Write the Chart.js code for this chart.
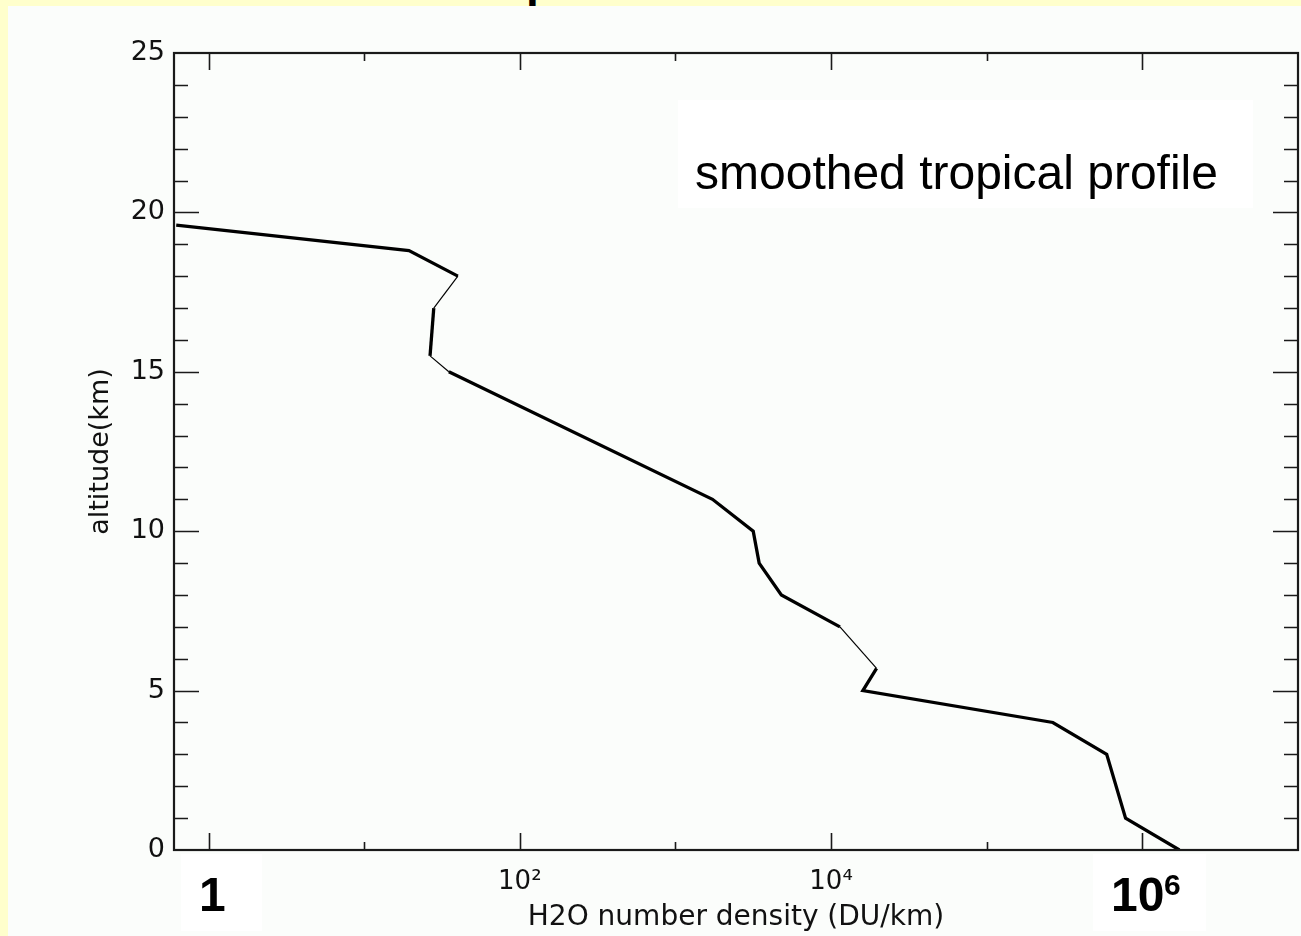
<!DOCTYPE html>
<html>
<head>
<meta charset="utf-8">
<title>H2O profile</title>
<script src="https://cdn.jsdelivr.net/npm/chart.js@4.4.1/dist/chart.umd.min.js"></script>
<style>
  html, body { margin: 0; padding: 0; }
  body { width: 1301px; height: 936px; background: #ffffcc; position: relative; overflow: hidden; }
  #topStrip { position: absolute; left: 0; top: 0; width: 1301px; height: 6px; overflow: hidden; }
  #topStrip span { position: absolute; left: 526px; top: -43px; font: bold 46px/46px "Liberation Sans", Arial, sans-serif; color: #000; }
  #slide { position: absolute; left: 8px; top: 6px; width: 1293px; height: 930px; background: #fbfdfb; }
  #wrap { position: absolute; left: 0; top: 0; width: 1301px; height: 936px; }
  .box { position: absolute; background: #ffffff; }
  .lbl { position: absolute; font-family: "Liberation Sans", Arial, sans-serif; color: #000; white-space: nowrap; }
</style>
</head>
<body>
<div id="topStrip"><span>p</span></div>
<div id="slide"></div>
<div class="box" style="left:678px;top:100px;width:575px;height:108px;"></div>
<div class="box" style="left:181px;top:854px;width:81px;height:77px;"></div>
<div class="box" style="left:1093px;top:854px;width:113px;height:77px;"></div>
<div id="wrap"><canvas id="c" width="1301" height="936"></canvas></div>
<div class="lbl" style="left:695px;top:149px;font-size:48px;line-height:48px;">smoothed tropical profile</div>
<div class="lbl" style="left:199px;top:871px;font-size:48px;line-height:48px;font-weight:bold;">1</div>
<div class="lbl" style="left:1111px;top:871px;font-size:48px;line-height:48px;font-weight:bold;">10</div>
<div class="lbl" style="left:1164px;top:870px;font-size:30px;line-height:30px;font-weight:bold;">6</div>
<script>
/* ====== DATA ====== */
// altitude (km) and H2O number density (DU/km)
var altitude = [19.6, 18.8, 18.0, 17.0, 15.5, 15.0, 11.0, 10.0, 9.0, 8.0, 7.0, 5.7, 5.0, 4.0, 3.0, 1.0, 0.0];
var density  = [0.62, 19.4, 40, 28, 26.5, 35, 1730, 3160, 3450, 4790, 11400, 19600, 16000, 266000, 590000, 780000, 1730000];

// axis ticks
var xDecades  = [1, 10, 100, 1000, 10000, 100000, 1000000];
var xTickText = ["", "", "10\u00b2", "", "10\u2074", "", ""];
var yTicks    = [0, 5, 10, 15, 20, 25];

/* ====== FRAME + INWARD TICKS (IDL style) ====== */
var frameTicks = {
    id: "frameTicks",
    afterDatasetsDraw: function (chart) {
        var ctx = chart.ctx, a = chart.chartArea;
        var xs = chart.scales.x, ys = chart.scales.y;
        ctx.save();
        ctx.strokeStyle = "#1a1a1a";
        ctx.lineWidth = 1.6;
        ctx.beginPath();
        // y: minor tick every km, long one every 5 km
        for (var v = 1; v < 25; v++) {
            var py = Math.round(ys.getPixelForValue(v)) + 0.5;
            var len = (yTicks.indexOf(v) !== -1) ? 25 : 14;
            ctx.moveTo(a.left, py); ctx.lineTo(a.left + len, py);
            ctx.moveTo(a.right, py); ctx.lineTo(a.right - len, py);
        }
        // x: one tick per decade, long on even powers
        xDecades.forEach(function (d, i) {
            var px = Math.round(xs.getPixelForValue(d)) + 0.5;
            var len = (i % 2 === 0) ? 17 : 8;
            ctx.moveTo(px, a.bottom); ctx.lineTo(px, a.bottom - len);
            ctx.moveTo(px, a.top); ctx.lineTo(px, a.top + len);
        });
        ctx.stroke();
        ctx.lineWidth = 2.2;
        ctx.strokeRect(a.left, a.top, a.right - a.left, a.bottom - a.top);
        ctx.restore();
    }
};

/* ====== CHART ====== */
var points = density.map(function (d, i) { return { x: d, y: altitude[i] }; });
var thinSegs = [2, 4, 10];
var axisFont = { family: "'DejaVu Sans', sans-serif", size: 26 };

new Chart(document.getElementById("c").getContext("2d"), {
    type: "line",
    data: {
        datasets: [{
            data: points,
            borderColor: "#000",
            borderWidth: 3.3,
            pointRadius: 0,
            tension: 0,
            fill: false,
            segment: {
                borderWidth: function (s) { return thinSegs.indexOf(s.p0DataIndex) !== -1 ? 1.2 : 3.3; }
            }
        }]
    },
    options: {
        responsive: false,
        animation: false,
        layout: { padding: { left: 0, top: 53, right: 3, bottom: 0 } },
        plugins: { legend: { display: false }, tooltip: { enabled: false } },
        scales: {
            x: {
                type: "logarithmic",
                min: 0.615, max: 1e7,
                grid: { display: false, drawTicks: false },
                border: { display: false },
                afterBuildTicks: function (s) { s.ticks = xDecades.map(function (v) { return { value: v }; }); },
                afterFit: function (s) { s.height = 86; },
                ticks: {
                    autoSkip: false, maxRotation: 0, padding: 17, color: "#111", font: axisFont,
                    callback: function (v, i) { return xTickText[i]; }
                },
                title: {
                    display: true, text: "H2O number density (DU/km)", color: "#111",
                    font: { family: "'DejaVu Sans', sans-serif", size: 28 }, padding: { top: 0, bottom: 1 }
                }
            },
            y: {
                min: 0, max: 25,
                grid: { display: false, drawTicks: false },
                border: { display: false },
                afterBuildTicks: function (s) { s.ticks = yTicks.map(function (v) { return { value: v }; }); },
                afterFit: function (s) { s.width = 174; },
                ticks: { padding: 9, color: "#111", font: { family: "'DejaVu Sans', sans-serif", size: 27 } },
                title: {
                    display: true, text: "altitude(km)", color: "#111",
                    font: { family: "'DejaVu Sans', sans-serif", size: 27 }, padding: { top: 85, bottom: 0 }
                }
            }
        }
    },
    plugins: [frameTicks]
});
</script>
</body>
</html>
